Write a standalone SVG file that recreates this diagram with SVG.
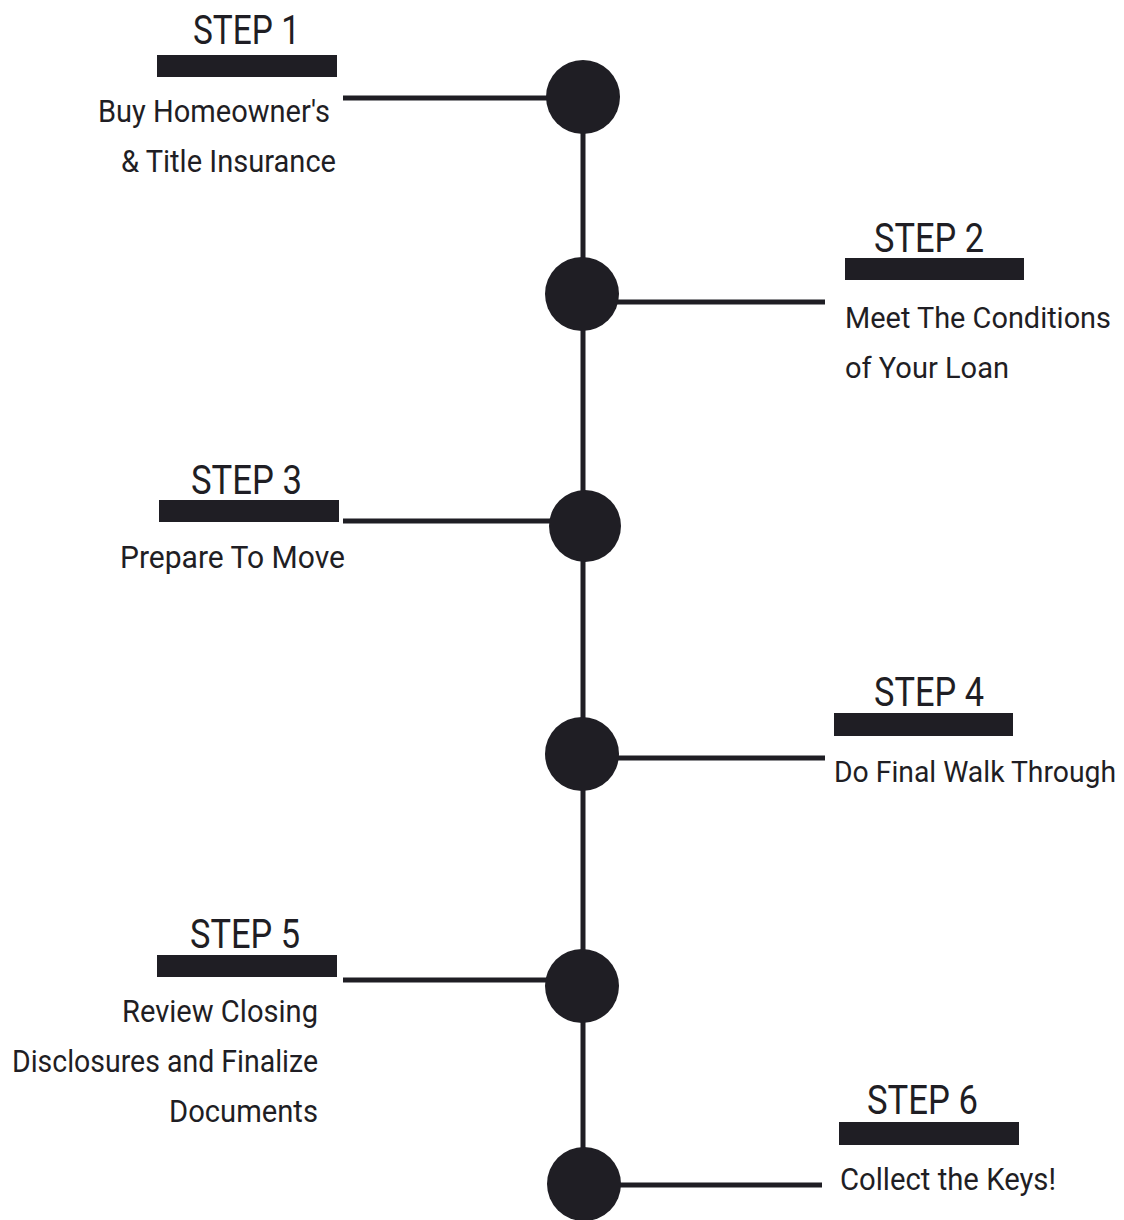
<svg xmlns="http://www.w3.org/2000/svg" width="1124" height="1220" viewBox="0 0 1124 1220">
<style>
.t{font-family:Roboto,"Liberation Sans",sans-serif;fill:#1f1e24;}
.h{font-size:40px;}
.b{font-size:31px;}
.n{font-size:29px;}
.bar{fill:#1f1e24;}
.dot{fill:#1f1e24;}
.ln{stroke:#1f1e24;stroke-width:5;fill:none;}
</style>
<rect width="1124" height="1220" fill="#ffffff"/>
<g id="connectors">
<line class="ln" x1="583" y1="97" x2="583" y2="1185"/>
<line class="ln" x1="343" y1="98" x2="560" y2="98"/>
<line class="ln" x1="600" y1="302" x2="825" y2="302"/>
<line class="ln" x1="343" y1="521" x2="560" y2="521"/>
<line class="ln" x1="600" y1="758" x2="825" y2="758"/>
<line class="ln" x1="343" y1="980" x2="560" y2="980"/>
<line class="ln" x1="600" y1="1185" x2="822" y2="1185"/>
</g>
<g id="step1">
<circle class="dot" cx="583" cy="97" r="37"/>
<text class="t h" x="193" y="44" textLength="107" lengthAdjust="spacingAndGlyphs">STEP 1</text>
<rect class="bar" x="157" y="55" width="180" height="22"/>
<text class="t b" x="98" y="122" textLength="232" lengthAdjust="spacingAndGlyphs">Buy Homeowner's</text>
<text class="t b" x="121" y="172" textLength="215" lengthAdjust="spacingAndGlyphs">&amp; Title Insurance</text>
</g>
<g id="step2">
<circle class="dot" cx="582" cy="294" r="37"/>
<text class="t h" x="874" y="252" textLength="110" lengthAdjust="spacingAndGlyphs">STEP 2</text>
<rect class="bar" x="845" y="258" width="179" height="22"/>
<text class="t n" x="845" y="328" textLength="266" lengthAdjust="spacingAndGlyphs">Meet The Conditions</text>
<text class="t n" x="845" y="378" textLength="164" lengthAdjust="spacingAndGlyphs">of Your Loan</text>
</g>
<g id="step3">
<circle class="dot" cx="585" cy="526" r="36"/>
<text class="t h" x="191" y="494" textLength="111" lengthAdjust="spacingAndGlyphs">STEP 3</text>
<rect class="bar" x="159" y="500" width="180" height="22"/>
<text class="t b" x="120" y="568" textLength="225" lengthAdjust="spacingAndGlyphs">Prepare To Move</text>
</g>
<g id="step4">
<circle class="dot" cx="582" cy="754" r="37"/>
<text class="t h" x="874" y="706" textLength="110" lengthAdjust="spacingAndGlyphs">STEP 4</text>
<rect class="bar" x="834" y="713" width="179" height="23"/>
<text class="t n" x="834" y="782" textLength="282" lengthAdjust="spacingAndGlyphs">Do Final Walk Through</text>
</g>
<g id="step5">
<circle class="dot" cx="582" cy="986" r="37"/>
<text class="t h" x="190" y="948" textLength="110" lengthAdjust="spacingAndGlyphs">STEP 5</text>
<rect class="bar" x="157" y="955" width="180" height="22"/>
<text class="t b" x="122" y="1022" textLength="196" lengthAdjust="spacingAndGlyphs">Review Closing</text>
<text class="t b" x="12" y="1072" textLength="306" lengthAdjust="spacingAndGlyphs">Disclosures and Finalize</text>
<text class="t b" x="169" y="1122" textLength="149" lengthAdjust="spacingAndGlyphs">Documents</text>
</g>
<g id="step6">
<circle class="dot" cx="584" cy="1184" r="37"/>
<text class="t h" x="867" y="1114" textLength="111" lengthAdjust="spacingAndGlyphs">STEP 6</text>
<rect class="bar" x="839" y="1122" width="180" height="23"/>
<text class="t b" x="840" y="1190" textLength="216" lengthAdjust="spacingAndGlyphs">Collect the Keys!</text>
</g>
</svg>
